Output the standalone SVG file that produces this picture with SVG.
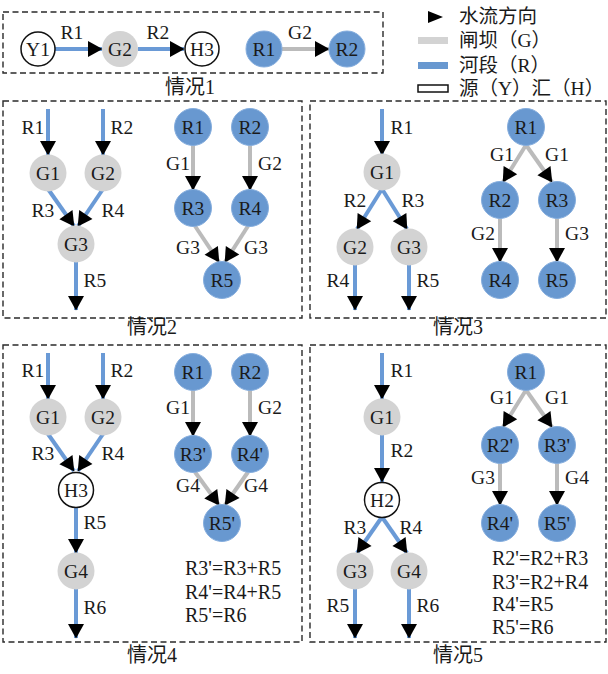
<svg xmlns="http://www.w3.org/2000/svg" width="608" height="674" viewBox="0 0 608 674">
<style>
text{font-family:"Liberation Serif","Times New Roman","DejaVu Serif",serif;font-size:19.5px;fill:#1a1a1a;text-anchor:middle;dominant-baseline:central}
.cap{font-family:"Liberation Serif","Noto Sans CJK SC",serif;font-size:20px}
.leg{font-family:"Liberation Serif","Noto Sans CJK SC",serif;font-size:19.5px;text-anchor:start}
.eq{font-size:20px;text-anchor:start}
.box{fill:none;stroke:#2a2a2a;stroke-width:1.4;stroke-dasharray:6 3.5}
.b{fill:#6898d0;stroke:#86aede;stroke-width:1}
.g{fill:#d3d3d3}
.w{fill:#fff;stroke:#111;stroke-width:1.5}
.rl{stroke:#6a9ad6;stroke-width:4;fill:none}
.gl{stroke:#bbbbbb;stroke-width:4;fill:none}
</style>
<defs>
<marker id="ah" markerUnits="userSpaceOnUse" markerWidth="15" markerHeight="16" refX="14" refY="8" orient="auto" overflow="visible">
<path d="M0,0 L14.5,8 L0,16 z" fill="#000"/>
</marker>
</defs>

<!-- frames -->
<g id="frames">
<rect class="box" x="3" y="12" width="380" height="61"/>
<rect class="box" x="3" y="101" width="299" height="217"/>
<rect class="box" x="310" y="101" width="296" height="217"/>
<rect class="box" x="3" y="345" width="299" height="297"/>
<rect class="box" x="310" y="345" width="296" height="297"/>
<text class="cap" x="190" y="87">情况1</text>
<text class="cap" x="152" y="327">情况2</text>
<text class="cap" x="458" y="327">情况3</text>
<text class="cap" x="152" y="655">情况4</text>
<text class="cap" x="458" y="655">情况5</text>
</g>

<!-- legend -->
<g id="legend">
<polygon points="428,11 443,17 428,23" fill="#000"/>
<text class="leg" x="459" y="16">水流方向</text>
<rect x="418" y="37" width="30" height="7" fill="#d3d3d3"/>
<text class="leg" x="459" y="40">闸坝（G）</text>
<rect x="418" y="62" width="30" height="7" fill="#6898d0"/>
<text class="leg" x="459" y="65">河段（R）</text>
<rect x="418" y="85" width="30" height="7" fill="#fff" stroke="#111" stroke-width="1.5"/>
<text class="leg" x="459" y="88">源（Y）汇（H）</text>
</g>

<!-- connectors -->
<g id="connectors">
<!-- case 1 -->
<line class="rl" x1="55" y1="49" x2="102" y2="49" marker-end="url(#ah)"/>
<line class="rl" x1="138" y1="49" x2="184" y2="49" marker-end="url(#ah)"/>
<line class="gl" x1="282" y1="49" x2="329" y2="49" marker-end="url(#ah)"/>
<!-- case 2 -->
<line class="rl" x1="48" y1="109" x2="48" y2="155" marker-end="url(#ah)"/>
<line class="rl" x1="103" y1="109" x2="103" y2="155" marker-end="url(#ah)"/>
<line class="rl" x1="48" y1="189" x2="74" y2="226" marker-end="url(#ah)"/>
<line class="rl" x1="103" y1="189" x2="78" y2="226" marker-end="url(#ah)"/>
<line class="rl" x1="76" y1="261" x2="76" y2="310" marker-end="url(#ah)"/>
<line class="gl" x1="193" y1="145" x2="193" y2="190" marker-end="url(#ah)"/>
<line class="gl" x1="250" y1="145" x2="250" y2="190" marker-end="url(#ah)"/>
<line class="gl" x1="195" y1="226" x2="219" y2="262" marker-end="url(#ah)"/>
<line class="gl" x1="248" y1="226" x2="225" y2="262" marker-end="url(#ah)"/>
<!-- case 3 -->
<line class="rl" x1="382" y1="109" x2="382" y2="155" marker-end="url(#ah)"/>
<line class="rl" x1="382" y1="189" x2="357" y2="229" marker-end="url(#ah)"/>
<line class="rl" x1="382" y1="189" x2="407" y2="229" marker-end="url(#ah)"/>
<line class="rl" x1="355" y1="265" x2="355" y2="310" marker-end="url(#ah)"/>
<line class="rl" x1="409" y1="265" x2="409" y2="310" marker-end="url(#ah)"/>
<line class="gl" x1="526" y1="145" x2="503" y2="182" marker-end="url(#ah)"/>
<line class="gl" x1="526" y1="145" x2="552" y2="182" marker-end="url(#ah)"/>
<line class="gl" x1="500" y1="218" x2="500" y2="262" marker-end="url(#ah)"/>
<line class="gl" x1="557" y1="218" x2="557" y2="262" marker-end="url(#ah)"/>
<!-- case 4 -->
<line class="rl" x1="48" y1="353" x2="48" y2="399" marker-end="url(#ah)"/>
<line class="rl" x1="103" y1="353" x2="103" y2="399" marker-end="url(#ah)"/>
<line class="rl" x1="48" y1="434" x2="74" y2="471" marker-end="url(#ah)"/>
<line class="rl" x1="103" y1="434" x2="78" y2="471" marker-end="url(#ah)"/>
<line class="rl" x1="76" y1="508" x2="76" y2="553" marker-end="url(#ah)"/>
<line class="rl" x1="76" y1="589" x2="76" y2="638" marker-end="url(#ah)"/>
<line class="gl" x1="193" y1="390" x2="193" y2="436" marker-end="url(#ah)"/>
<line class="gl" x1="250" y1="390" x2="250" y2="436" marker-end="url(#ah)"/>
<line class="gl" x1="195" y1="472" x2="219" y2="505" marker-end="url(#ah)"/>
<line class="gl" x1="248" y1="472" x2="225" y2="505" marker-end="url(#ah)"/>
<!-- case 5 -->
<line class="rl" x1="382" y1="353" x2="382" y2="399" marker-end="url(#ah)"/>
<line class="rl" x1="382" y1="435" x2="382" y2="482" marker-end="url(#ah)"/>
<line class="rl" x1="382" y1="517" x2="357" y2="553" marker-end="url(#ah)"/>
<line class="rl" x1="382" y1="517" x2="407" y2="553" marker-end="url(#ah)"/>
<line class="rl" x1="355" y1="589" x2="355" y2="638" marker-end="url(#ah)"/>
<line class="rl" x1="409" y1="589" x2="409" y2="638" marker-end="url(#ah)"/>
<line class="gl" x1="526" y1="390" x2="503" y2="427" marker-end="url(#ah)"/>
<line class="gl" x1="526" y1="390" x2="552" y2="427" marker-end="url(#ah)"/>
<line class="gl" x1="500" y1="463" x2="500" y2="505" marker-end="url(#ah)"/>
<line class="gl" x1="557" y1="463" x2="557" y2="505" marker-end="url(#ah)"/>
</g>

<!-- connector labels -->
<g id="edge-labels">
<text x="72" y="32">R1</text><text x="158" y="32">R2</text><text x="300" y="32">G2</text>
<text x="33" y="127">R1</text><text x="122" y="127">R2</text><text x="43" y="210">R3</text><text x="113" y="210">R4</text><text x="95" y="280">R5</text>
<text x="178" y="163">G1</text><text x="270" y="163">G2</text><text x="188" y="247">G3</text><text x="256" y="247">G3</text>
<text x="402" y="127">R1</text><text x="355" y="200">R2</text><text x="413" y="200">R3</text><text x="338" y="280">R4</text><text x="428" y="280">R5</text>
<text x="502" y="154">G1</text><text x="557" y="154">G1</text><text x="483" y="233">G2</text><text x="577" y="233">G3</text>
<text x="33" y="370">R1</text><text x="122" y="370">R2</text><text x="43" y="453">R3</text><text x="113" y="453">R4</text><text x="95" y="522">R5</text><text x="95" y="607">R6</text>
<text x="178" y="407">G1</text><text x="270" y="407">G2</text><text x="188" y="485">G4</text><text x="256" y="485">G4</text>
<text x="402" y="370">R1</text><text x="402" y="450">R2</text><text x="355" y="527">R3</text><text x="411" y="527">R4</text><text x="338" y="605">R5</text><text x="428" y="605">R6</text>
<text x="502" y="397">G1</text><text x="557" y="397">G1</text><text x="483" y="477">G3</text><text x="577" y="477">G4</text>
</g>

<!-- nodes case 1 -->
<g id="c1-Y1"><circle class="w" cx="38" cy="49" r="17"/><text x="38" y="49">Y1</text></g>
<g id="c1-G2"><circle class="g" cx="120" cy="49" r="18"/><text x="120" y="49">G2</text></g>
<g id="c1-H3"><circle class="w" cx="202" cy="49" r="17"/><text x="202" y="49">H3</text></g>
<g id="c1-R1"><circle class="b" cx="264" cy="49" r="18"/><text x="264" y="49">R1</text></g>
<g id="c1-R2"><circle class="b" cx="347" cy="49" r="18"/><text x="347" y="49">R2</text></g>

<!-- nodes case 2 -->
<g id="c2-G1"><circle class="g" cx="48" cy="173" r="18.5"/><text x="48" y="173">G1</text></g>
<g id="c2-G2"><circle class="g" cx="103" cy="173" r="18.5"/><text x="103" y="173">G2</text></g>
<g id="c2-G3"><circle class="g" cx="76" cy="244" r="18.5"/><text x="76" y="244">G3</text></g>
<g id="c2-R1"><circle class="b" cx="193" cy="127" r="18.5"/><text x="193" y="127">R1</text></g>
<g id="c2-R2"><circle class="b" cx="250" cy="127" r="18.5"/><text x="250" y="127">R2</text></g>
<g id="c2-R3"><circle class="b" cx="193" cy="208" r="18.5"/><text x="193" y="208">R3</text></g>
<g id="c2-R4"><circle class="b" cx="250" cy="208" r="18.5"/><text x="250" y="208">R4</text></g>
<g id="c2-R5"><circle class="b" cx="222" cy="280" r="18.5"/><text x="222" y="280">R5</text></g>

<!-- nodes case 3 -->
<g id="c3-G1"><circle class="g" cx="382" cy="172" r="18.5"/><text x="382" y="172">G1</text></g>
<g id="c3-G2"><circle class="g" cx="355" cy="247" r="18.5"/><text x="355" y="247">G2</text></g>
<g id="c3-G3"><circle class="g" cx="409" cy="247" r="18.5"/><text x="409" y="247">G3</text></g>
<g id="c3-R1"><circle class="b" cx="526" cy="127" r="18.5"/><text x="526" y="127">R1</text></g>
<g id="c3-R2"><circle class="b" cx="500" cy="200" r="18.5"/><text x="500" y="200">R2</text></g>
<g id="c3-R3"><circle class="b" cx="557" cy="200" r="18.5"/><text x="557" y="200">R3</text></g>
<g id="c3-R4"><circle class="b" cx="500" cy="280" r="18.5"/><text x="500" y="280">R4</text></g>
<g id="c3-R5"><circle class="b" cx="557" cy="280" r="18.5"/><text x="557" y="280">R5</text></g>

<!-- nodes case 4 -->
<g id="c4-G1"><circle class="g" cx="48" cy="417" r="18.5"/><text x="48" y="417">G1</text></g>
<g id="c4-G2"><circle class="g" cx="103" cy="417" r="18.5"/><text x="103" y="417">G2</text></g>
<g id="c4-H3"><circle class="w" cx="76" cy="490" r="17.5"/><text x="76" y="490">H3</text></g>
<g id="c4-G4"><circle class="g" cx="76" cy="571" r="18.5"/><text x="76" y="571">G4</text></g>
<g id="c4-R1"><circle class="b" cx="193" cy="372" r="18.5"/><text x="193" y="372">R1</text></g>
<g id="c4-R2"><circle class="b" cx="250" cy="372" r="18.5"/><text x="250" y="372">R2</text></g>
<g id="c4-R3p"><circle class="b" cx="193" cy="454" r="18.5"/><text x="193" y="454">R3'</text></g>
<g id="c4-R4p"><circle class="b" cx="250" cy="454" r="18.5"/><text x="250" y="454">R4'</text></g>
<g id="c4-R5p"><circle class="b" cx="222" cy="523" r="18.5"/><text x="222" y="523">R5'</text></g>
<g id="c4-eq">
<text class="eq" x="185" y="568">R3'=R3+R5</text>
<text class="eq" x="185" y="592">R4'=R4+R5</text>
<text class="eq" x="185" y="615">R5'=R6</text>
</g>

<!-- nodes case 5 -->
<g id="c5-G1"><circle class="g" cx="382" cy="417" r="18.5"/><text x="382" y="417">G1</text></g>
<g id="c5-H2"><circle class="w" cx="382" cy="500" r="17.5"/><text x="382" y="500">H2</text></g>
<g id="c5-G3"><circle class="g" cx="355" cy="571" r="18.5"/><text x="355" y="571">G3</text></g>
<g id="c5-G4"><circle class="g" cx="409" cy="571" r="18.5"/><text x="409" y="571">G4</text></g>
<g id="c5-R1"><circle class="b" cx="526" cy="372" r="18.5"/><text x="526" y="372">R1</text></g>
<g id="c5-R2p"><circle class="b" cx="500" cy="445" r="18.5"/><text x="500" y="445">R2'</text></g>
<g id="c5-R3p"><circle class="b" cx="557" cy="445" r="18.5"/><text x="557" y="445">R3'</text></g>
<g id="c5-R4p"><circle class="b" cx="500" cy="523" r="18.5"/><text x="500" y="523">R4'</text></g>
<g id="c5-R5p"><circle class="b" cx="557" cy="523" r="18.5"/><text x="557" y="523">R5'</text></g>
<g id="c5-eq">
<text class="eq" x="492" y="558">R2'=R2+R3</text>
<text class="eq" x="492" y="582">R3'=R2+R4</text>
<text class="eq" x="492" y="604">R4'=R5</text>
<text class="eq" x="492" y="627">R5'=R6</text>
</g>
</svg>
